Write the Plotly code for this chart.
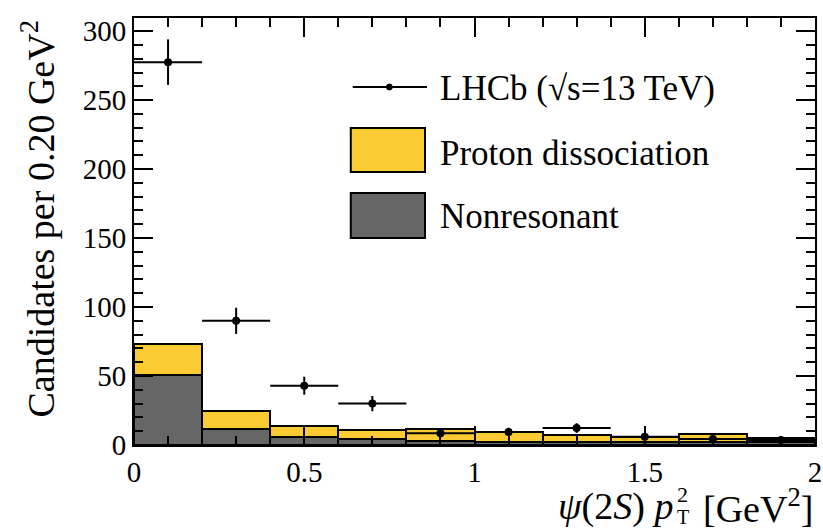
import plotly.graph_objects as go

# ---- data ----
bin_lo = [0.0, 0.2, 0.4, 0.6, 0.8, 1.0, 1.2, 1.4, 1.6, 1.8]
bin_width = 0.2
data_x = [0.1, 0.3, 0.5, 0.7, 0.9, 1.1, 1.3, 1.5, 1.7, 1.9]
data_y = [277.5, 90, 43, 30, 8.5, 9.5, 12.3, 6, 4.3, 3.6]
data_err = [16.5, 9.5, 6.5, 5.5, 3, 3, 3.5, 2.5, 2, 1.9]
nonres = [50.5, 11.5, 6, 4, 3, 2.5, 2, 2, 2.5, 2]
protdiss = [22.5, 13.5, 8, 6.8, 8.6, 7, 5.2, 3.6, 5.2, 2.8]
x_ticks = [0, 0.5, 1, 1.5, 2]
x_ticklabels = ["0", "0.5", "1", "1.5", "2"]
y_ticks = [0, 50, 100, 150, 200, 250, 300]

FONT = "Liberation Serif"
GRAY = "#666666"
YELLOW = "#fbcb33"

fig = go.Figure()
fig.add_trace(go.Bar(x=bin_lo, y=nonres, width=bin_width, offset=0,
                     marker=dict(color=GRAY, line=dict(color="black", width=2)),
                     name="Nonresonant", showlegend=False))
fig.add_trace(go.Bar(x=bin_lo, y=protdiss, width=bin_width, offset=0,
                     marker=dict(color=YELLOW, line=dict(color="black", width=2)),
                     name="Proton dissociation", showlegend=False))
fig.add_trace(go.Scatter(x=data_x, y=data_y, mode="markers",
                         marker=dict(color="black", size=8),
                         error_x=dict(type="constant", value=0.1, width=0, thickness=2, color="black"),
                         error_y=dict(type="data", array=data_err, width=0, thickness=2, color="black"),
                         name="LHCb", showlegend=False))

L, R, T, B = 134, 822, 18, 445
def px(x): return (x - L) / (R - L)
def py(y): return (B - y) / (B - T)

shapes = [
    dict(type="line", xref="paper", yref="paper", x0=px(355), x1=px(430), y0=py(87), y1=py(87),
         line=dict(color="black", width=2)),
    dict(type="circle", xref="paper", yref="paper", x0=px(389), x1=px(395), y0=py(84), y1=py(90),
         fillcolor="black", line=dict(color="black", width=1)),
    dict(type="rect", xref="paper", yref="paper", x0=px(353), x1=px(428), y0=py(172), y1=py(128),
         fillcolor=YELLOW, line=dict(color="black", width=2)),
    dict(type="rect", xref="paper", yref="paper", x0=px(353), x1=px(428), y0=py(238), y1=py(193),
         fillcolor=GRAY, line=dict(color="black", width=2)),
]

def ann(text, x, y, size, xanchor="left", yanchor="middle", angle=0, pad=1):
    return dict(text=text, xref="paper", yref="paper", x=x, y=y, xanchor=xanchor, yanchor=yanchor,
                textangle=angle, showarrow=False, borderpad=pad,
                font=dict(family=FONT, size=size, color="black"))

LEG = 35
annotations = [
    ann("LHCb (√s=13 TeV)", px(441), py(89), LEG),
    ann("Proton dissociation", px(441), py(153), LEG),
    ann("Nonresonant", px(441), py(217), LEG),
    ann("Candidates per 0.20 GeV<sup>2</sup>", px(37), 1.0, 38, xanchor="center", yanchor="top", angle=-90),
    # x-axis title, built in pieces so that sub- and superscript of p stack
    ann("<i>ψ</i>(2<i>S</i>) <i>p</i>", px(681), py(506), 38, xanchor="right"),
    ann("2", px(682), py(495), 22, pad=0),
    ann("T", px(682), py(517), 20, pad=0),
    ann("[GeV<sup>2</sup>]", px(707), py(506), 38),
]

axis_common = dict(showgrid=False, zeroline=False, showline=True, linecolor="black", linewidth=2,
                   mirror="ticks", ticks="inside", tickwidth=2, tickcolor="black", ticklen=19,
                   ticklabeloverflow="allow",
                   tickfont=dict(family=FONT, size=29, color="black"))
fig.update_layout(
    width=823, height=531, margin=dict(l=L, r=823 - R, t=T, b=531 - B),
    paper_bgcolor="white", plot_bgcolor="white", barmode="stack", bargap=0,
    shapes=shapes, annotations=annotations,
    xaxis=dict(range=[0, 2], tickvals=x_ticks, ticktext=x_ticklabels,
               minor=dict(dtick=0.1, ticks="inside", ticklen=9, tickwidth=2, tickcolor="black"),
               **axis_common),
    yaxis=dict(range=[0, 309.5], tickvals=y_ticks,
               minor=dict(dtick=10, ticks="inside", ticklen=9, tickwidth=2, tickcolor="black"),
               **axis_common),
)
fig.write_html("out.html")
